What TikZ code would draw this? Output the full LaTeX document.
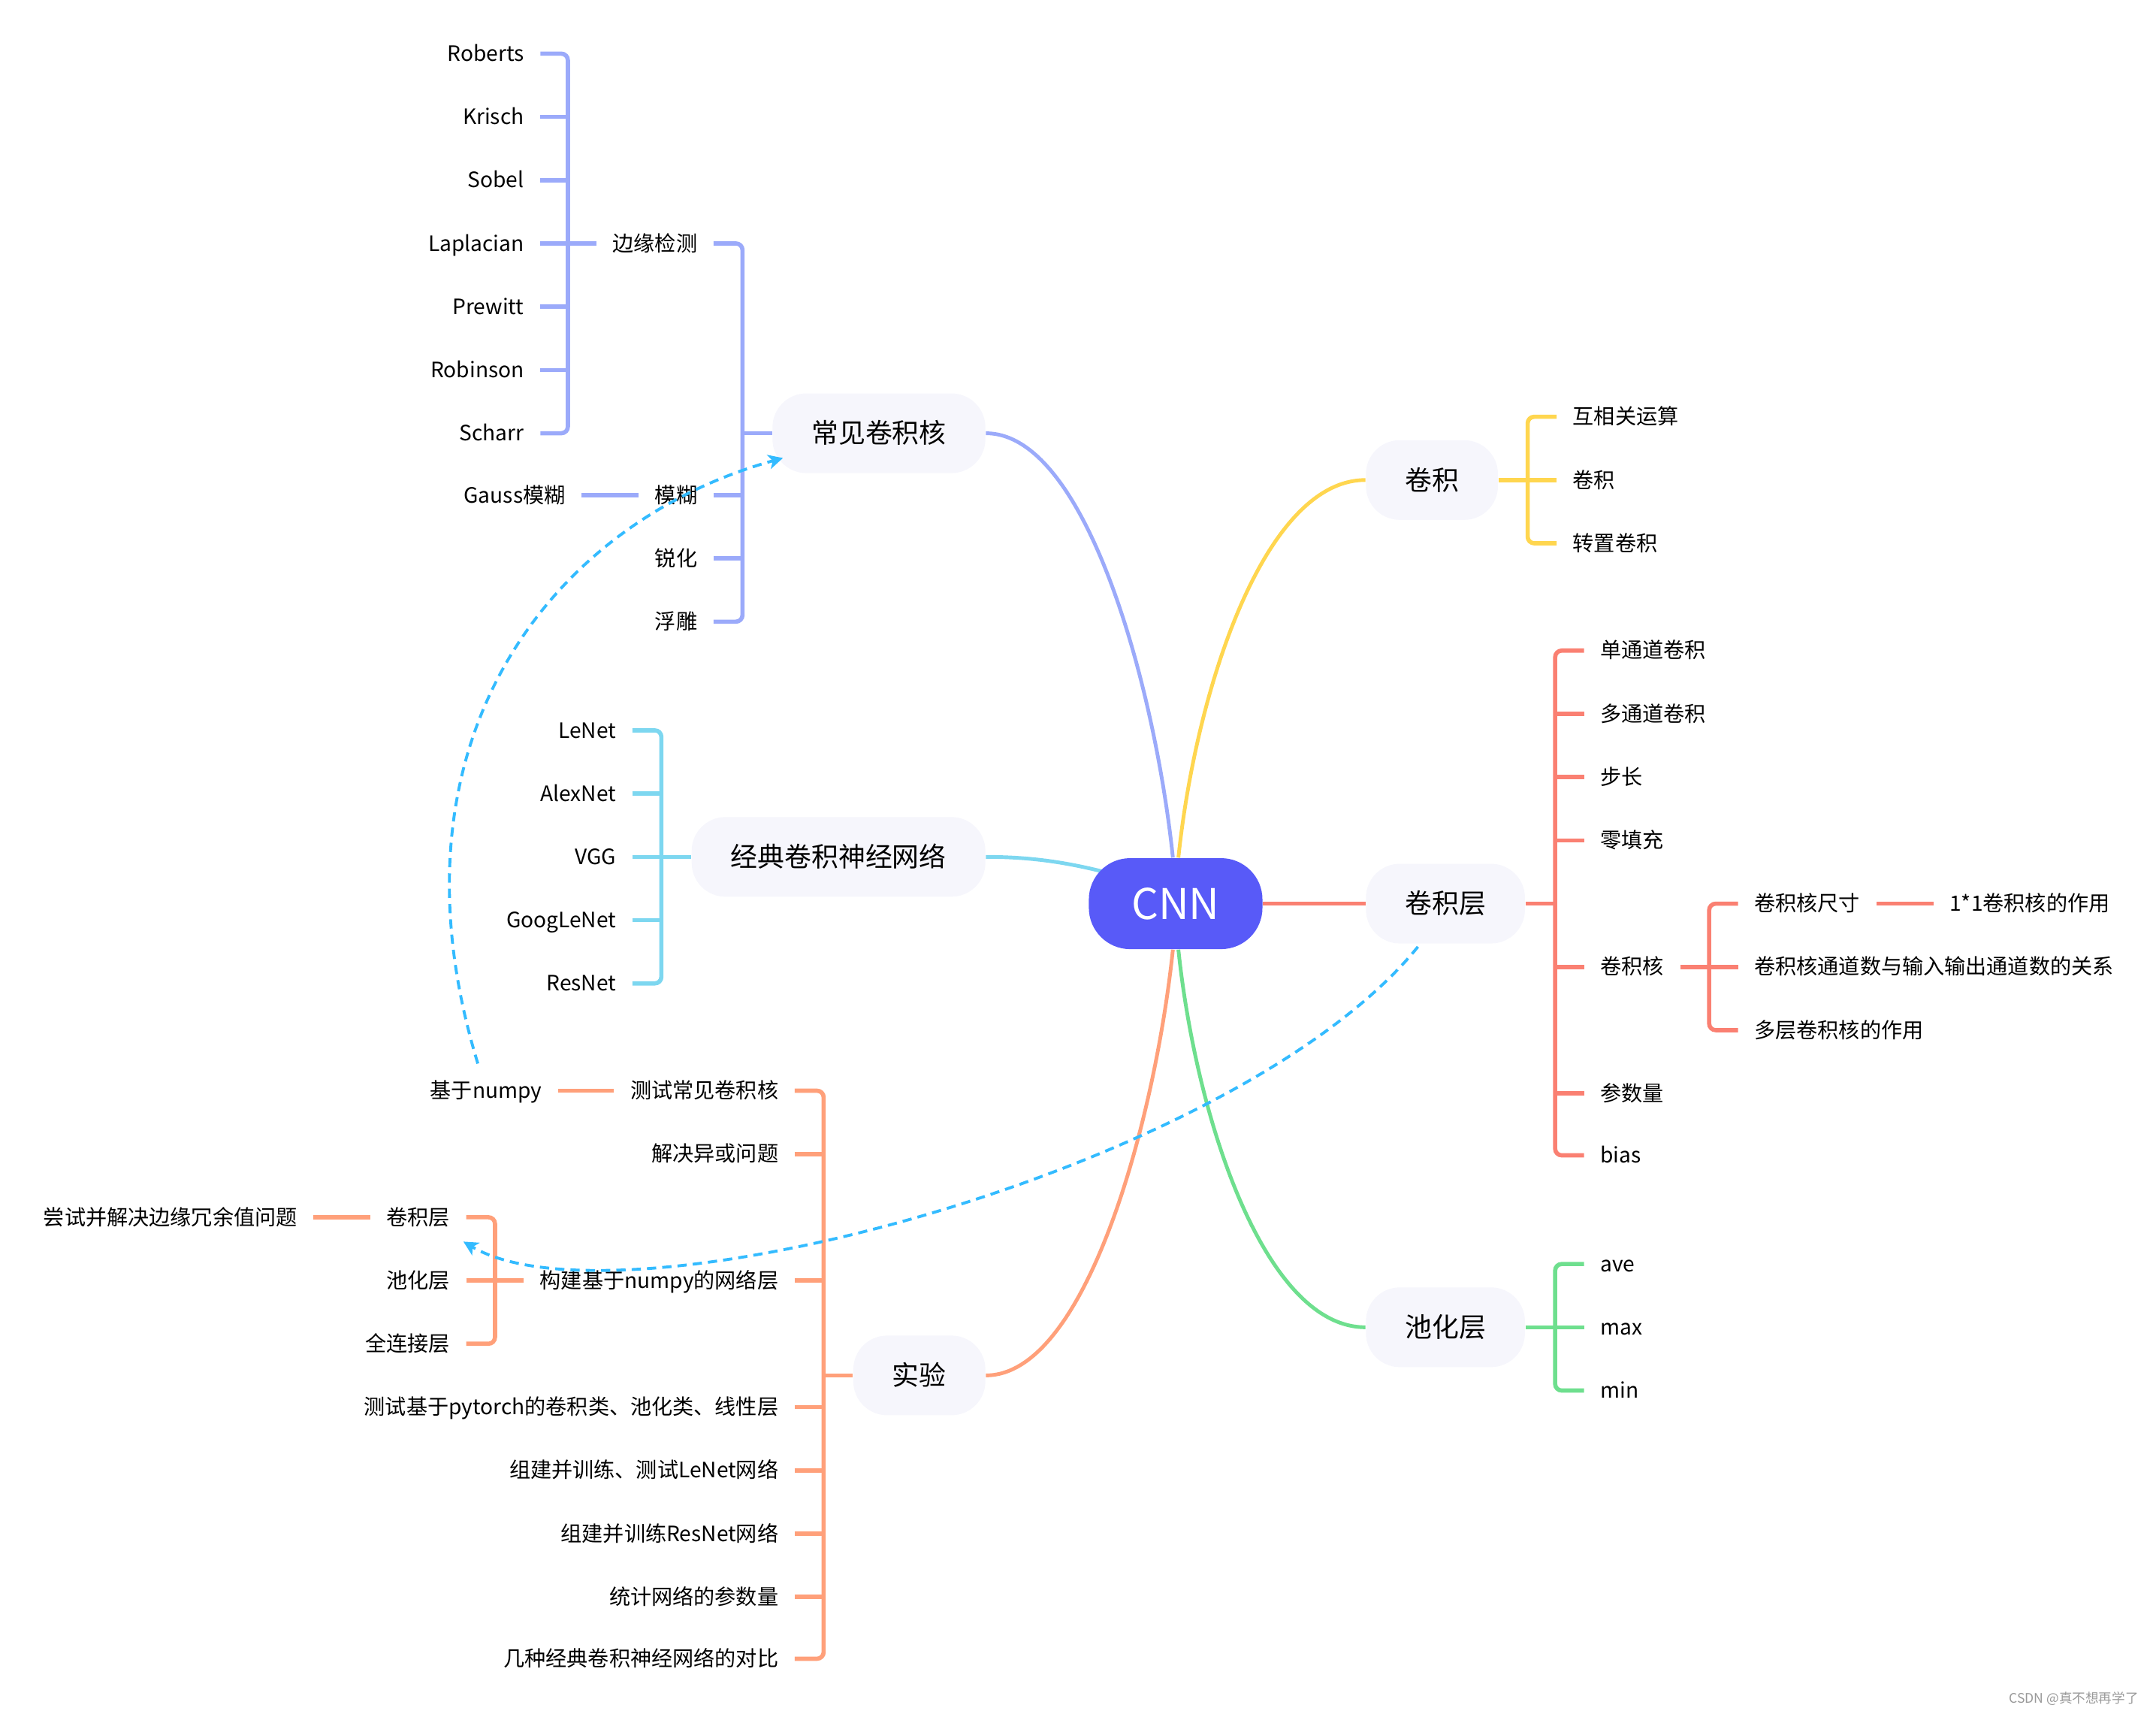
\documentclass[tikz,border=0pt]{standalone}
\usepackage{fontspec}
\setmainfont{Noto Sans CJK SC}
\usetikzlibrary{calc,arrows.meta,positioning,backgrounds}

\definecolor{cnnblue}{RGB}{88,90,248}
\definecolor{topicbg}{RGB}{246,246,252}
\definecolor{kernline}{RGB}{155,170,250}
\definecolor{convline}{RGB}{255,214,79}
\definecolor{netline}{RGB}{125,215,240}
\definecolor{layerline}{RGB}{250,128,114}
\definecolor{poolline}{RGB}{110,223,142}
\definecolor{expline}{RGB}{255,160,122}
\definecolor{linkline}{RGB}{51,187,255}

\begin{document}
\begin{tikzpicture}[x=0.0183cm,y=-0.0183cm,
  topic/.style={fill=topicbg,rounded corners=0.45cm,minimum height=1.06cm,inner xsep=0.52cm,text height=8.7pt,text depth=1.2pt,font=\fontsize{10.2}{12}\selectfont},
  leafl/.style={anchor=east,inner xsep=6pt,inner ysep=2pt,text height=6.8pt,text depth=1pt,font=\fontsize{8}{10}\selectfont},
  leafr/.style={leafl,anchor=west},
  branch/.style={line width=1.6pt,rounded corners=2.5pt},
  curve/.style={line width=1.4pt},
  link/.style={linkline,line width=1.1pt,dash pattern=on 3.5pt off 2.3pt,-{Stealth[length=5.5pt,width=5.5pt,inset=1.5pt]}}]

  \useasboundingbox (0,0) rectangle (1568,1246);

  % Root
  \node[fill=cnnblue,text=white,rounded corners=0.55cm,minimum width=2.31cm,minimum height=1.21cm,font=\fontsize{16}{18}\selectfont] (cnn) at (855,657) {CNN};

  % Topics
  \node[topic,anchor=east] (kern) at (717,315) {常见卷积核};
  \node[topic,anchor=east] (classic) at (717,623) {经典卷积神经网络};
  \node[topic,anchor=east] (exp) at (717,1000) {实验};
  \node[topic,anchor=west] (conv) at (993,349) {卷积};
  \node[topic,anchor=west] (layer) at (993,657) {卷积层};
  \node[topic,anchor=west] (pool) at (993,965) {池化层};

  % Common kernels
  \node[leafl] (kern-edge) at (519,177) {边缘检测};
  \node[leafl] (kern-blur) at (519,360) {模糊};
  \node[leafl] (kern-sharp) at (519,406) {锐化};
  \node[leafl] (kern-emboss) at (519,452) {浮雕};
  \node[leafl] (blur-gauss) at (423,360) {Gauss模糊};
  \node[leafl] (edge-0) at (393,39) {Roberts};
  \node[leafl] (edge-1) at (393,85) {Krisch};
  \node[leafl] (edge-2) at (393,131) {Sobel};
  \node[leafl] (edge-3) at (393,177) {Laplacian};
  \node[leafl] (edge-4) at (393,223) {Prewitt};
  \node[leafl] (edge-5) at (393,269) {Robinson};
  \node[leafl] (edge-6) at (393,315) {Scharr};
  \coordinate (kern-bar) at (540,315);
  \coordinate (edge-bar) at (413,177);

  % Classic networks
  \node[leafl] (net-0) at (460,531) {LeNet};
  \node[leafl] (net-1) at (460,577) {AlexNet};
  \node[leafl] (net-2) at (460,623) {VGG};
  \node[leafl] (net-3) at (460,669) {GoogLeNet};
  \node[leafl] (net-4) at (460,715) {ResNet};
  \coordinate (net-bar) at (481,623);

  % Experiments
  \node[leafl] (exp-0) at (578,793) {测试常见卷积核};
  \node[leafl] (exp-1) at (578,839) {解决异或问题};
  \node[leafl] (exp-2) at (578,931) {构建基于numpy的网络层};
  \node[leafl] (exp-3) at (578,1023) {测试基于pytorch的卷积类、池化类、线性层};
  \node[leafl] (exp-4) at (578,1069) {组建并训练、测试LeNet网络};
  \node[leafl] (exp-5) at (578,1115) {组建并训练ResNet网络};
  \node[leafl] (exp-6) at (578,1161) {统计网络的参数量};
  \node[leafl] (exp-7) at (578,1206) {几种经典卷积神经网络的对比};
  \node[leafl] (exp-numpy) at (406,793) {基于numpy};
  \node[leafl] (build-0) at (339,885) {卷积层};
  \node[leafl] (build-1) at (339,931) {池化层};
  \node[leafl] (build-2) at (339,977) {全连接层};
  \node[leafl] (build-redund) at (228,885) {尝试并解决边缘冗余值问题};
  \coordinate (exp-bar) at (599,1000);
  \coordinate (build-bar) at (360,931);

  % Convolution
  \node[leafr] (conv-0) at (1132,303) {互相关运算};
  \node[leafr] (conv-1) at (1132,349) {卷积};
  \node[leafr] (conv-2) at (1132,395) {转置卷积};
  \coordinate (conv-bar) at (1111,349);

  % Convolution layer
  \node[leafr] (layer-0) at (1152,473) {单通道卷积};
  \node[leafr] (layer-1) at (1152,519) {多通道卷积};
  \node[leafr] (layer-2) at (1152,565) {步长};
  \node[leafr] (layer-3) at (1152,611) {零填充};
  \node[leafr] (layer-4) at (1152,703) {卷积核};
  \node[leafr] (layer-5) at (1152,795) {参数量};
  \node[leafr] (layer-6) at (1152,840) {bias};
  \node[leafr] (kernel-0) at (1264,657) {卷积核尺寸};
  \node[leafr] (kernel-1) at (1264,703) {卷积核通道数与输入输出通道数的关系};
  \node[leafr] (kernel-2) at (1264,749) {多层卷积核的作用};
  \node[leafr] (size-one) at (1406,657) {1*1卷积核的作用};
  \coordinate (layer-bar) at (1131,657);
  \coordinate (kernel-bar) at (1243,703);

  % Pooling layer
  \node[leafr] (pool-0) at (1152,919) {ave};
  \node[leafr] (pool-1) at (1152,965) {max};
  \node[leafr] (pool-2) at (1152,1011) {min};
  \coordinate (pool-bar) at (1131,965);

  \node[anchor=east,text=black!40,font=\fontsize{5}{6}\selectfont] (mark) at (1562,1235) {CSDN @真不想再学了};

  \begin{pgfonlayer}{background}
    % Root to topics
    \draw[curve,kernline] (kern.east) .. controls +(73,0) and +(-13,-124) .. ($(cnn.north)+(-2,0)$);
    \draw[curve,convline] (conv.west) .. controls +(-73,0) and +(13,-124) .. ($(cnn.north)+(2,0)$);
    \draw[curve,netline] (classic.east) .. controls +(40,0) and +(-30,-8) .. ($(cnn.center)+(-40,-20)$);
    \draw[curve,layerline,line width=1.6pt] (cnn.east) -- (layer.west);
    \draw[curve,poolline] ($(cnn.south)+(2,0)$) .. controls +(13,124) and +(-73,0) .. (pool.west);
    \draw[curve,expline] ($(cnn.south)+(-2,0)$) .. controls +(-13,124) and +(73,0) .. (exp.east);
  \end{pgfonlayer}

  % Brackets, common kernels
  \draw[branch,kernline] (kern-edge.east) -| (kern-bar) |- (kern-emboss.east);
  \draw[branch,kernline] (kern.west) -- (kern-bar);
  \draw[branch,kernline] (kern-blur.east) -- (kern-blur.east -| kern-bar);
  \draw[branch,kernline] (kern-sharp.east) -- (kern-sharp.east -| kern-bar);
  \draw[branch,kernline] (blur-gauss.east) -- (kern-blur.west);
  \draw[branch,kernline] (edge-0.east) -| (edge-bar) |- (edge-6.east);
  \draw[branch,kernline] (kern-edge.west) -- (edge-bar);
  \foreach \i in {1,...,5}
    \draw[branch,kernline] (edge-\i.east) -- (edge-\i.east -| edge-bar);

  % Brackets, classic networks
  \draw[branch,netline] (net-0.east) -| (net-bar) |- (net-4.east);
  \draw[branch,netline] (classic.west) -- (net-bar);
  \foreach \i in {1,2,3}
    \draw[branch,netline] (net-\i.east) -- (net-\i.east -| net-bar);

  % Brackets, experiments
  \draw[branch,expline] (exp-0.east) -| (exp-bar) |- (exp-7.east);
  \draw[branch,expline] (exp.west) -- (exp-bar);
  \foreach \i in {1,...,6}
    \draw[branch,expline] (exp-\i.east) -- (exp-\i.east -| exp-bar);
  \draw[branch,expline] (exp-numpy.east) -- (exp-0.west);
  \draw[branch,expline] (build-0.east) -| (build-bar) |- (build-2.east);
  \draw[branch,expline] (exp-2.west) -- (build-bar);
  \draw[branch,expline] (build-1.east) -- (build-1.east -| build-bar);
  \draw[branch,expline] (build-redund.east) -- (build-0.west);

  % Brackets, convolution
  \draw[branch,convline] (conv-0.west) -| (conv-bar) |- (conv-2.west);
  \draw[branch,convline] (conv.east) -- (conv-bar);
  \draw[branch,convline] (conv-1.west) -- (conv-1.west -| conv-bar);

  % Brackets, convolution layer
  \draw[branch,layerline] (layer-0.west) -| (layer-bar) |- (layer-6.west);
  \draw[branch,layerline] (layer.east) -- (layer-bar);
  \foreach \i in {1,...,5}
    \draw[branch,layerline] (layer-\i.west) -- (layer-\i.west -| layer-bar);
  \draw[branch,layerline] (kernel-0.west) -| (kernel-bar) |- (kernel-2.west);
  \draw[branch,layerline] (layer-4.east) -- (kernel-bar);
  \draw[branch,layerline] (kernel-1.west) -- (kernel-1.west -| kernel-bar);
  \draw[branch,layerline] (kernel-0.east) -- (size-one.west);

  % Brackets, pooling layer
  \draw[branch,poolline] (pool-0.west) -| (pool-bar) |- (pool-2.west);
  \draw[branch,poolline] (pool.east) -- (pool-bar);
  \draw[branch,poolline] (pool-1.west) -- (pool-1.west -| pool-bar);

  % Cross links
  \draw[link] ($(exp-numpy.north)+(-6,-8)$) .. controls (276,540) and (400,380) .. ($(kern.west)+(8,18)$);
  \draw[link] ($(layer.south)+(-20,2)$) .. controls (900,850) and (450,970) .. ($(build-0.south east)+(-2,6)$);

\end{tikzpicture}
\end{document}
